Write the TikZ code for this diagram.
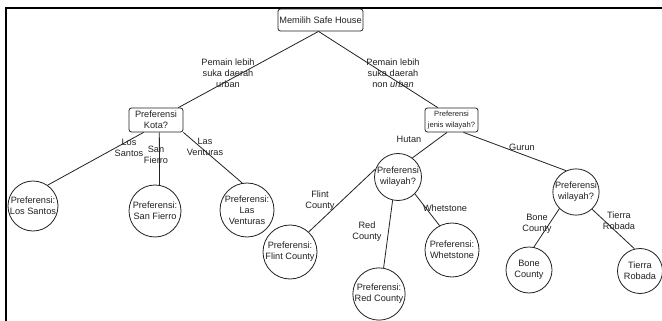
\documentclass[tikz,border=0pt]{standalone}
\usepackage{fontspec}
\setmainfont{Liberation Sans}
\definecolor{ink}{HTML}{222222}
\begin{document}
\begin{tikzpicture}[x=1pt,y=-1pt,
  every node/.style={text=ink,font=\fontsize{9.2}{11}\selectfont,align=center},
  box/.style={draw=ink,rounded corners=2.5pt,line width=0.8pt,inner sep=0pt},
  circ/.style={draw=ink,circle,line width=0.8pt,inner sep=0pt,minimum size=#1},
  edge/.style={draw=ink,line width=0.8pt},
  lbl/.style={inner sep=0pt}]
\useasboundingbox (0,0) rectangle (662,321);
\fill[white] (0,0) rectangle (662,321);
% frame
\draw[line width=2pt,black] (662,8) -- (6,8) -- (6,321);
% nodes
\node[box,minimum width=85pt,minimum height=22pt] (root) at (320.5,20) {Memilih Safe House};
\node[box,minimum width=54pt,minimum height=24pt] (kota) at (156,120) {Preferensi\\Kota?};
\node[box,minimum width=53pt,minimum height=24pt,font=\fontsize{7.6}{11.5}\selectfont] (jenis) at (451.5,120) {Preferensi\\jenis wilayah?};
\node[circ=50pt] (ls) at (33,206) {Preferensi:\\Los Santos};
\node[circ=52pt] (sf) at (155,211) {Preferensi:\\San Fierro};
\node[circ=54pt] (lv) at (247,210) {Preferensi:\\Las\\Venturas};
\node[circ=47pt] (hutan) at (398,177) {Preferensi\\wilayah?};
\node[circ=54pt] (flint) at (290,252) {Preferensi:\\Flint County};
\node[circ=52pt] (red) at (379,294) {Preferensi:\\Red County};
\node[circ=54pt] (wh) at (452,250) {Preferensi:\\Whetstone};
\node[circ=46pt] (gurun) at (576,192) {Preferensi\\wilayah?};
\node[circ=46pt] (bone) at (529,270) {Bone\\County};
\node[circ=45pt] (tr) at (640,271) {Tierra\\Robada};
% edges
\draw[edge] (root.-100) -- (kota.29);
\draw[edge] (root.-100) -- (jenis.138);
\draw[edge] (kota.-135) -- (ls.55);
\draw[edge] (kota.-75) -- (sf.80);
\draw[edge] (kota.south east) -- (lv.100);
\draw[edge] (jenis.-110) -- (hutan.53);
\draw[edge] (jenis.-46) -- (gurun.115);
\draw[edge] (hutan.160) -- (flint.47);
\draw[edge] (hutan.-103) -- (red.80);
\draw[edge] (hutan.-45) -- (wh.117);
\draw[edge] (gurun.-135) -- (bone.78);
\draw[edge] (gurun.-47) -- (tr.104);
% labels
\node[lbl] (l1) at (228,73) {Pemain lebih\\suka daerah\\urban};
\node[lbl] (l2) at (393,73) {Pemain lebih\\suka daerah\\non \textit{urban}};
\node[lbl] (l3) at (129,147.5) {Los\\Santos};
\node[lbl] (l4) at (156,155) {San\\Fierro};
\node[lbl] (l5) at (205,147) {Las\\Venturas};
\node[lbl] (l6) at (320,201) {Flint\\County};
\node[lbl] (l7) at (409,139) {Hutan};
\node[lbl] (l8) at (522,147) {Gurun};
\node[lbl] (l9) at (367,231.5) {Red\\County};
\node[lbl] (l10) at (445,208) {Whetstone};
\node[lbl] (l11) at (537,223.5) {Bone\\County};
\node[lbl] (l12) at (619,220.5) {Tierra\\Robada};
\end{tikzpicture}
\end{document}
